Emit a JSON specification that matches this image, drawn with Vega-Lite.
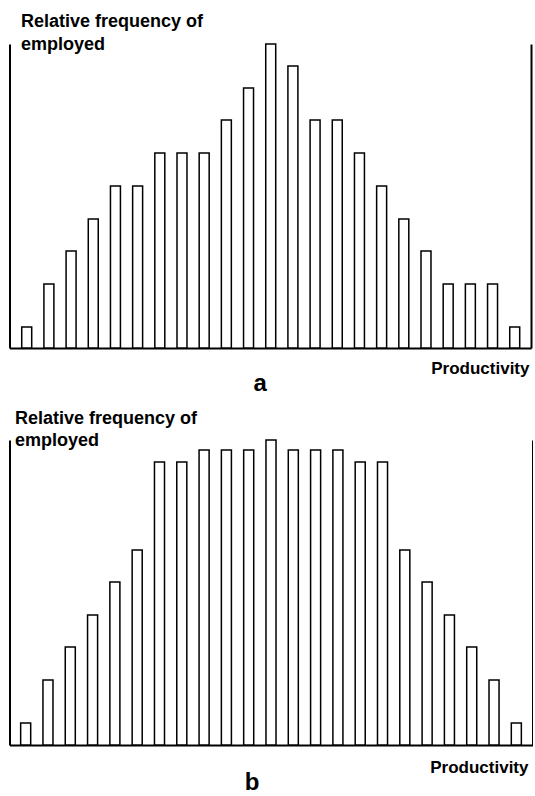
{
  "$schema": "https://vega.github.io/schema/vega-lite/v6.json",
  "padding": {"left": 9.5, "top": 12, "right": 0, "bottom": 0},
  "background": "white",
  "config": {"view": {"stroke": null}, "font": "Liberation Sans", "concat": {"spacing": 13}},
  "datasets": {
    "a": [
      {"k": 1, "freq": 21}, {"k": 2, "freq": 64}, {"k": 3, "freq": 97}, {"k": 4, "freq": 129},
      {"k": 5, "freq": 162}, {"k": 6, "freq": 162}, {"k": 7, "freq": 195}, {"k": 8, "freq": 195},
      {"k": 9, "freq": 195}, {"k": 10, "freq": 228}, {"k": 11, "freq": 260}, {"k": 12, "freq": 304},
      {"k": 13, "freq": 282}, {"k": 14, "freq": 228}, {"k": 15, "freq": 228}, {"k": 16, "freq": 195},
      {"k": 17, "freq": 162}, {"k": 18, "freq": 129}, {"k": 19, "freq": 97}, {"k": 20, "freq": 64},
      {"k": 21, "freq": 64}, {"k": 22, "freq": 64}, {"k": 23, "freq": 21}
    ],
    "b": [
      {"k": 1, "freq": 22}, {"k": 2, "freq": 65}, {"k": 3, "freq": 98}, {"k": 4, "freq": 130},
      {"k": 5, "freq": 163}, {"k": 6, "freq": 195}, {"k": 7, "freq": 283}, {"k": 8, "freq": 283},
      {"k": 9, "freq": 295}, {"k": 10, "freq": 295}, {"k": 11, "freq": 295}, {"k": 12, "freq": 305},
      {"k": 13, "freq": 295}, {"k": 14, "freq": 295}, {"k": 15, "freq": 295}, {"k": 16, "freq": 283},
      {"k": 17, "freq": 283}, {"k": 18, "freq": 195}, {"k": 19, "freq": 163}, {"k": 20, "freq": 130},
      {"k": 21, "freq": 98}, {"k": 22, "freq": 65}, {"k": 23, "freq": 22}
    ]
  },
  "vconcat": [
    {
      "width": 521.5,
      "height": 304,
      "data": {"name": "a"},
      "title": {"text": "a", "orient": "bottom", "anchor": "middle", "fontSize": 24, "fontWeight": "bold", "font": "Liberation Sans", "color": "black", "dx": -10, "offset": -4},
      "encoding": {
        "x": {
          "field": "k", "type": "ordinal",
          "scale": {"paddingInner": 0.55, "paddingOuter": 0.53, "align": 0.52},
          "axis": {"domain": true, "domainColor": "black", "domainWidth": 2, "ticks": false, "labels": false, "grid": false,
            "title": "Productivity", "titleX": 519.5, "titleY": 25, "titleAlign": "right", "titleBaseline": "alphabetic",
            "titleFontSize": 17, "titleFontWeight": "bold", "titleColor": "black", "titleFont": "Liberation Sans"}
        }
      },
      "layer": [
        {
          "mark": {"type": "bar", "fill": "white", "stroke": "black", "strokeWidth": 1.5},
          "encoding": {
            "y": {"field": "freq", "type": "quantitative", "scale": {"domain": [0, 304], "nice": false},
              "axis": {"orient": "left", "domainColor": "black", "domainWidth": 2, "ticks": false, "labels": false, "grid": false,
                "title": ["Relative frequency of", "employed"], "titleAngle": 0, "titleAlign": "left", "titleBaseline": "alphabetic",
                "titleX": 11, "titleY": -18, "titleFontSize": 18, "titleFontWeight": "bold", "titleColor": "black",
                "titleLineHeight": 23, "titleFont": "Liberation Sans"}}
          }
        },
        {
          "mark": {"type": "bar", "opacity": 0},
          "encoding": {
            "y": {"field": "freq", "type": "quantitative",
              "axis": {"orient": "right", "domainColor": "black", "domainWidth": 2, "ticks": false, "labels": false, "grid": false, "title": null}}
          }
        }
      ],
      "resolve": {"axis": {"y": "independent"}}
    },
    {
      "width": 523,
      "height": 305,
      "data": {"name": "b"},
      "title": {"text": "b", "orient": "bottom", "anchor": "middle", "fontSize": 24, "fontWeight": "bold", "font": "Liberation Sans", "color": "black", "dx": -19, "offset": -4},
      "encoding": {
        "x": {
          "field": "k", "type": "ordinal",
          "scale": {"paddingInner": 0.55, "paddingOuter": 0.5, "align": 0.5},
          "axis": {"domain": true, "domainColor": "black", "domainWidth": 2, "ticks": false, "labels": false, "grid": false,
            "title": "Productivity", "titleX": 518.5, "titleY": 27, "titleAlign": "right", "titleBaseline": "alphabetic",
            "titleFontSize": 17, "titleFontWeight": "bold", "titleColor": "black", "titleFont": "Liberation Sans"}
        }
      },
      "layer": [
        {
          "mark": {"type": "bar", "fill": "white", "stroke": "black", "strokeWidth": 1.5},
          "encoding": {
            "y": {"field": "freq", "type": "quantitative", "scale": {"domain": [0, 305], "nice": false},
              "axis": {"orient": "left", "domainColor": "black", "domainWidth": 2, "ticks": false, "labels": false, "grid": false,
                "title": ["Relative frequency of", "employed"], "titleAngle": 0, "titleAlign": "left", "titleBaseline": "alphabetic",
                "titleX": 5, "titleY": -17, "titleFontSize": 18, "titleFontWeight": "bold", "titleColor": "black",
                "titleLineHeight": 22, "titleFont": "Liberation Sans"}}
          }
        },
        {
          "mark": {"type": "bar", "opacity": 0},
          "encoding": {
            "y": {"field": "freq", "type": "quantitative",
              "axis": {"orient": "right", "domainColor": "black", "domainWidth": 2, "ticks": false, "labels": false, "grid": false, "title": null}}
          }
        }
      ],
      "resolve": {"axis": {"y": "independent"}}
    }
  ]
}
